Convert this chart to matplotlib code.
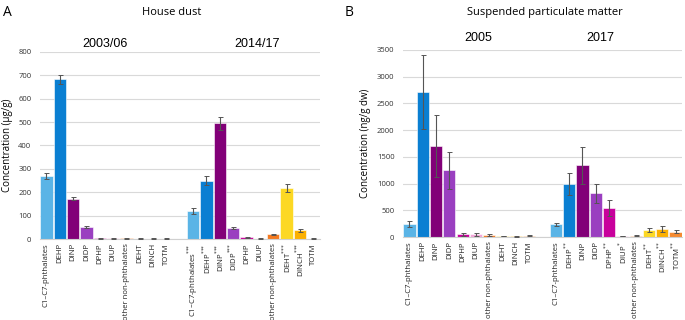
import numpy as np
import matplotlib.pyplot as plt

plt.rcParams['font.family'] = ['Open Sans', 'DejaVu Sans']

# categories
names = ["C1\u2013C7-phthalates", "DEHP", "DINP", "DIDP", "DPHP", "DIUP",
         "other non-phthalates", "DEHT", "DINCH", "TOTM"]
colors = ["#5ab4e6", "#0a7fd2", "#820078", "#9a3fc0", "#c8009c", "#f2a6d8",
          "#f47a20", "#fcd824", "#fcb000", "#f58a30"]

# panel A: house dust (ug/g)
dust_0306 = [270, 683, 172, 52, 3, 4, 3, 2, 2, 2]
dust_0306_err = [14, 20, 6, 3, 1, 2, 1, 1, 1, 1]
dust_1417 = [120, 250, 495, 48, 7, 2, 20, 218, 37, 2]
dust_1417_err = [12, 18, 28, 3, 2, 1, 2, 18, 5, 1]
dust_marks_2 = ["***", "***", "***", "***", "", "", "", "***", "***", ""]

# panel B: suspended particulate matter (ng/g dw)
spm_2005 = [250, 2720, 1700, 1250, 50, 50, 40, 20, 15, 30]
spm_2005_err = [60, 690, 580, 350, 20, 30, 20, 8, 5, 10]
spm_2017 = [240, 990, 1340, 820, 540, 20, 30, 130, 150, 100]
spm_2017_err = [30, 200, 340, 180, 150, 5, 10, 40, 50, 25]
spm_marks_2 = ["", "**", "", "", "**", "*", "", "**", "**", "**"]

fig = plt.figure(figsize=(6.85, 3.2), dpi=100)


def star_label(name, marks):
    if not marks:
        return name
    return name + "$^{" + "".join("{*}" for _ in marks) + "}$"


def draw_panel(ax, v1, e1, v2, e2, marks2, ymax, ystep):
    x1 = np.arange(10)
    x2 = np.arange(11, 21)
    for xs, vals, errs in [(x1, v1, e1), (x2, v2, e2)]:
        ax.bar(xs, vals, width=0.92, color=colors, edgecolor="white",
               linewidth=0.4, zorder=2)
        ax.errorbar(xs, vals, yerr=errs, fmt="none", ecolor="#555555",
                    elinewidth=0.8, capsize=1.8, capthick=0.7, zorder=3)
    labels = names + [""] + [star_label(n, m) for n, m in zip(names, marks2)]
    ax.set_xticks(list(x1) + [10] + list(x2))
    ax.set_xticklabels(labels, rotation=90, fontsize=5.6, color="#222222")
    ax.tick_params(axis="x", length=0, pad=3)
    ax.set_xlim(-0.5, 20.5)
    ax.set_ylim(0, ymax)
    ax.set_yticks(np.arange(0, ymax + 1, ystep))
    ax.tick_params(axis="y", length=0, labelsize=5.5, labelcolor="#333333", pad=6)
    ax.grid(axis="y", color="#d9d9d9", linewidth=0.8, zorder=0)
    for s in ["top", "right", "left"]:
        ax.spines[s].set_visible(False)
    ax.spines["bottom"].set_color("#d0d0d0")
    ax.spines["bottom"].set_linewidth(0.8)


axA = fig.add_axes([0.058, 0.253, 0.409, 0.585])
draw_panel(axA, dust_0306, dust_0306_err, dust_1417, dust_1417_err, dust_marks_2, 800, 100)
axA.set_ylabel("Concentration (\u00b5g/g)", fontsize=7, labelpad=4)

axB = fig.add_axes([0.588, 0.259, 0.408, 0.585])
draw_panel(axB, spm_2005, spm_2005_err, spm_2017, spm_2017_err, spm_marks_2, 3500, 500)
axB.set_ylabel("Concentration (ng/g dw)", fontsize=7, labelpad=4)

# titles and labels
fig.text(0.004, 0.96, "A", fontsize=10, va="center")
fig.text(0.251, 0.96, "House dust", fontsize=8, ha="center", va="center")
fig.text(0.503, 0.96, "B", fontsize=10, va="center")
fig.text(0.795, 0.96, "Suspended particulate matter", fontsize=8, ha="center", va="center")

fig.text(0.153, 0.862, "2003/06", fontsize=9, ha="center", va="center", family="Liberation Sans")
fig.text(0.376, 0.862, "2014/17", fontsize=9, ha="center", va="center", family="Liberation Sans")
fig.text(0.698, 0.88, "2005", fontsize=9, ha="center", va="center", family="Liberation Sans")
fig.text(0.876, 0.88, "2017", fontsize=9, ha="center", va="center", family="Liberation Sans")

fig.savefig("out.png", dpi=100)
